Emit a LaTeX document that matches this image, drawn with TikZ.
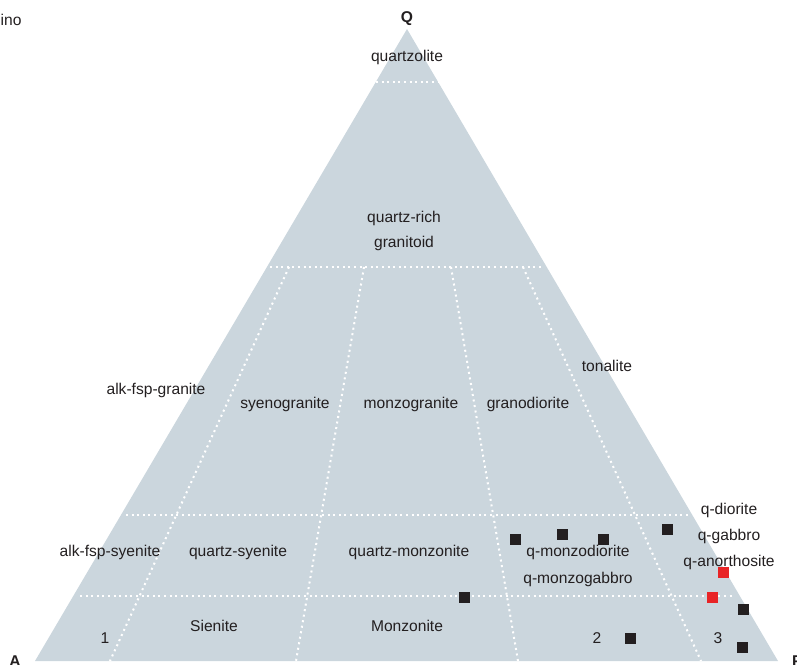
\documentclass[tikz,border=0pt]{standalone}
\usepackage{fontspec}
\setmainfont{Liberation Sans}
\definecolor{fieldfill}{RGB}{203,214,221}
\definecolor{txt}{RGB}{35,31,32}
\definecolor{redpt}{RGB}{232,36,38}
\begin{document}
\begin{tikzpicture}[x=1pt,y=-1pt,
  lbl/.style={inner sep=0pt,text=txt,font=\fontsize{15.6}{18}\selectfont},
  corner/.style={inner sep=0pt,text=txt,font=\fontsize{15.6}{18}\selectfont\bfseries},
  divline/.style={white,line width=2pt,dash pattern=on 2pt off 3.6pt},
  sample/.style={fill=txt,minimum size=11pt,inner sep=0pt,draw=none},
  redsample/.style={fill=redpt,minimum size=11pt,inner sep=0pt,draw=none}]
\useasboundingbox (0,0) rectangle (797,664);
% triangle corners
\coordinate (cA) at (35,661);
\coordinate (cQ) at (407,29);
\coordinate (cP) at (778,661);
\fill[fieldfill] (cA) -- (cQ) -- (cP) -- cycle;
% horizontal division lines
\coordinate (h1l) at (376,82);  \coordinate (h1r) at (438,82);
\coordinate (h2l) at (270,267); \coordinate (h2r) at (544,267);
\coordinate (h3l) at (126,515); \coordinate (h3r) at (688,515);
\coordinate (h4l) at (80,596);  \coordinate (h4r) at (734,596);
\draw[divline] (h1l) -- (h1r);
\draw[divline] (h2l) -- (h2r);
\draw[divline] (h3l) -- (h3r);
\draw[divline] (h4l) -- (h4r);
% radial division lines
\coordinate (v1t) at (289,267); \coordinate (v1b) at (110,661);
\coordinate (v2t) at (364,267); \coordinate (v2b) at (296,661);
\coordinate (v3t) at (451,267); \coordinate (v3b) at (518,661);
\coordinate (v4t) at (523,267); \coordinate (v4b) at (701,661);
\draw[divline] (v1t) -- (v1b);
\draw[divline] (v2t) -- (v2b);
\draw[divline] (v3t) -- (v3b);
\draw[divline] (v4t) -- (v4b);
% corner labels
\node[corner] (lQ) at (407,19) {Q};
\node[corner,anchor=north] (lA) at (15,656) {A};
\node[corner,anchor=north west] (lP) at (792,656) {P};
\node[lbl,anchor=west] (ino) at (0.5,20) {ino};
% field labels
\node[lbl] (quartzolite) at (407,57) {quartzolite};
\node[lbl] (qrich) at (404,218) {quartz-rich};
\node[lbl] (granitoid) at (404,243) {granitoid};
\node[lbl] (alkgr) at (156,390) {alk-fsp-granite};
\node[lbl] (syenogr) at (285,404) {syenogranite};
\node[lbl] (monzogr) at (411,404) {monzogranite};
\node[lbl] (granod) at (528,404) {granodiorite};
\node[lbl] (tonal) at (607,366) {tonalite};
\node[lbl] (qdior) at (729,510) {q-diorite};
\node[lbl] (qgab) at (729,536) {q-gabbro};
\node[lbl] (qanor) at (729,562) {q-anorthosite};
\node[lbl] (alksy) at (110,552) {alk-fsp-syenite};
\node[lbl] (qsy) at (238,552) {quartz-syenite};
\node[lbl] (qmz) at (409,552) {quartz-monzonite};
\node[lbl] (qmzd) at (578,552) {q-monzodiorite};
\node[lbl] (qmzg) at (578,579) {q-monzogabbro};
\node[lbl] (sien) at (214,626) {Sienite};
\node[lbl] (monz) at (407,626) {Monzonite};
\node[lbl] (n1) at (105,638) {1};
\node[lbl] (n2) at (597,638) {2};
\node[lbl] (n3) at (718,638) {3};
% samples
\node[sample] (s1) at (515.7,539.3) {};
\node[sample] (s2) at (562.3,534.3) {};
\node[sample] (s3) at (603.5,539.3) {};
\node[sample] (s4) at (667.3,529.3) {};
\node[sample] (s5) at (464.3,597.3) {};
\node[sample] (s6) at (630.3,638.3) {};
\node[sample] (s7) at (743.3,609) {};
\node[sample] (s8) at (742.3,647.3) {};
\node[redsample] (r1) at (723.3,572) {};
\node[redsample] (r2) at (712.3,597.3) {};
\end{tikzpicture}
\end{document}
